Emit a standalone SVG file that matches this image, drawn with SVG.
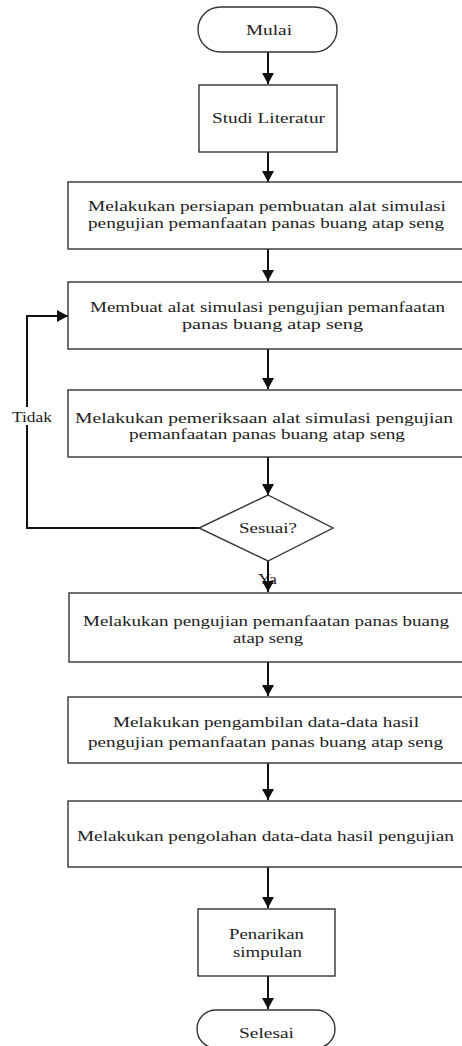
<svg xmlns="http://www.w3.org/2000/svg" width="462" height="1046" viewBox="0 0 462 1046">
<defs>
<style>
.n{fill:#fff;stroke:#333;stroke-width:1.4}
.t{font-family:"Liberation Serif","Times New Roman",serif;font-size:15.5px;fill:#222;text-anchor:middle}
.c{fill:none;stroke:#111;stroke-width:2}
</style>
<marker id="ah" markerUnits="userSpaceOnUse" markerWidth="12" markerHeight="12" refX="11" refY="6" orient="auto">
<path d="M0,0 L11,6 L0,12 Z" fill="#111"/>
</marker>
</defs>
<rect width="462" height="1046" fill="#fff"/>
<g id="connectors">
<text class="t" x="267.5" y="584" textLength="19" lengthAdjust="spacingAndGlyphs">Ya</text>
<line class="c" x1="268" y1="52" x2="268" y2="84" marker-end="url(#ah)"/>
<line class="c" x1="268" y1="152" x2="268" y2="182" marker-end="url(#ah)"/>
<line class="c" x1="268" y1="249" x2="268" y2="281" marker-end="url(#ah)"/>
<line class="c" x1="268" y1="349" x2="268" y2="389" marker-end="url(#ah)"/>
<line class="c" x1="268" y1="457" x2="268" y2="495" marker-end="url(#ah)"/>
<line class="c" x1="268" y1="561" x2="268" y2="592" marker-end="url(#ah)"/>
<line class="c" x1="268" y1="662" x2="268" y2="696" marker-end="url(#ah)"/>
<line class="c" x1="268" y1="763" x2="268" y2="800" marker-end="url(#ah)"/>
<line class="c" x1="268" y1="867" x2="268" y2="908" marker-end="url(#ah)"/>
<line class="c" x1="268" y1="976" x2="268" y2="1009" marker-end="url(#ah)"/>
<polyline class="c" points="199,528 27,528 27,316 68,316" marker-end="url(#ah)"/>
<g id="label-tidak">
<rect x="8" y="407" width="48" height="18" fill="#fff"/>
<text class="t" x="32" y="422" textLength="40" lengthAdjust="spacingAndGlyphs">Tidak</text>
</g>
</g>
<g id="mulai">
<rect class="n" x="198" y="7" width="139" height="45" rx="22.5"/>
<text class="t" x="269" y="35" textLength="46" lengthAdjust="spacingAndGlyphs">Mulai</text>
</g>
<g id="studi">
<rect class="n" x="199" y="85" width="138" height="67"/>
<text class="t" x="268.5" y="123" textLength="113" lengthAdjust="spacingAndGlyphs">Studi Literatur</text>
</g>
<g id="persiapan">
<rect class="n" x="68" y="182" width="400" height="67"/>
<text class="t" x="267" y="211" textLength="358" lengthAdjust="spacingAndGlyphs">Melakukan persiapan pembuatan alat simulasi</text>
<text class="t" x="266" y="228" textLength="356" lengthAdjust="spacingAndGlyphs">pengujian pemanfaatan panas buang atap seng</text>
</g>
<g id="membuat">
<rect class="n" x="68" y="282" width="400" height="67"/>
<text class="t" x="267.5" y="312" textLength="355" lengthAdjust="spacingAndGlyphs">Membuat alat simulasi pengujian pemanfaatan</text>
<text class="t" x="272.5" y="329" textLength="181" lengthAdjust="spacingAndGlyphs">panas buang atap seng</text>
</g>
<g id="pemeriksaan">
<rect class="n" x="68" y="390" width="400" height="67"/>
<text class="t" x="264" y="423" textLength="378" lengthAdjust="spacingAndGlyphs">Melakukan pemeriksaan alat simulasi pengujian</text>
<text class="t" x="267" y="439" textLength="276" lengthAdjust="spacingAndGlyphs">pemanfaatan panas buang atap seng</text>
</g>
<g id="sesuai">
<polygon class="n" points="268,495 333,528 268,561 199,528"/>
<text class="t" x="268" y="533" textLength="58" lengthAdjust="spacingAndGlyphs">Sesuai?</text>
</g>
<g id="pengujian">
<rect class="n" x="69" y="593" width="400" height="69"/>
<text class="t" x="266" y="626" textLength="366" lengthAdjust="spacingAndGlyphs">Melakukan pengujian pemanfaatan panas buang</text>
<text class="t" x="268" y="643" textLength="70" lengthAdjust="spacingAndGlyphs">atap seng</text>
</g>
<g id="pengambilan">
<rect class="n" x="68" y="697" width="400" height="66"/>
<text class="t" x="266" y="727" textLength="306" lengthAdjust="spacingAndGlyphs">Melakukan pengambilan data-data hasil</text>
<text class="t" x="265.5" y="747" textLength="355" lengthAdjust="spacingAndGlyphs">pengujian pemanfaatan panas buang atap seng</text>
</g>
<g id="pengolahan">
<rect class="n" x="68" y="801" width="400" height="66"/>
<text class="t" x="265.5" y="841" textLength="377" lengthAdjust="spacingAndGlyphs">Melakukan pengolahan data-data hasil pengujian</text>
</g>
<g id="penarikan">
<rect class="n" x="198" y="909" width="137" height="67"/>
<text class="t" x="266.5" y="939" textLength="75" lengthAdjust="spacingAndGlyphs">Penarikan</text>
<text class="t" x="267.5" y="957" textLength="69" lengthAdjust="spacingAndGlyphs">simpulan</text>
</g>
<g id="selesai">
<rect class="n" x="197" y="1010" width="138" height="38" rx="19"/>
<text class="t" x="266.5" y="1038" textLength="55" lengthAdjust="spacingAndGlyphs">Selesai</text>
</g>
</svg>
